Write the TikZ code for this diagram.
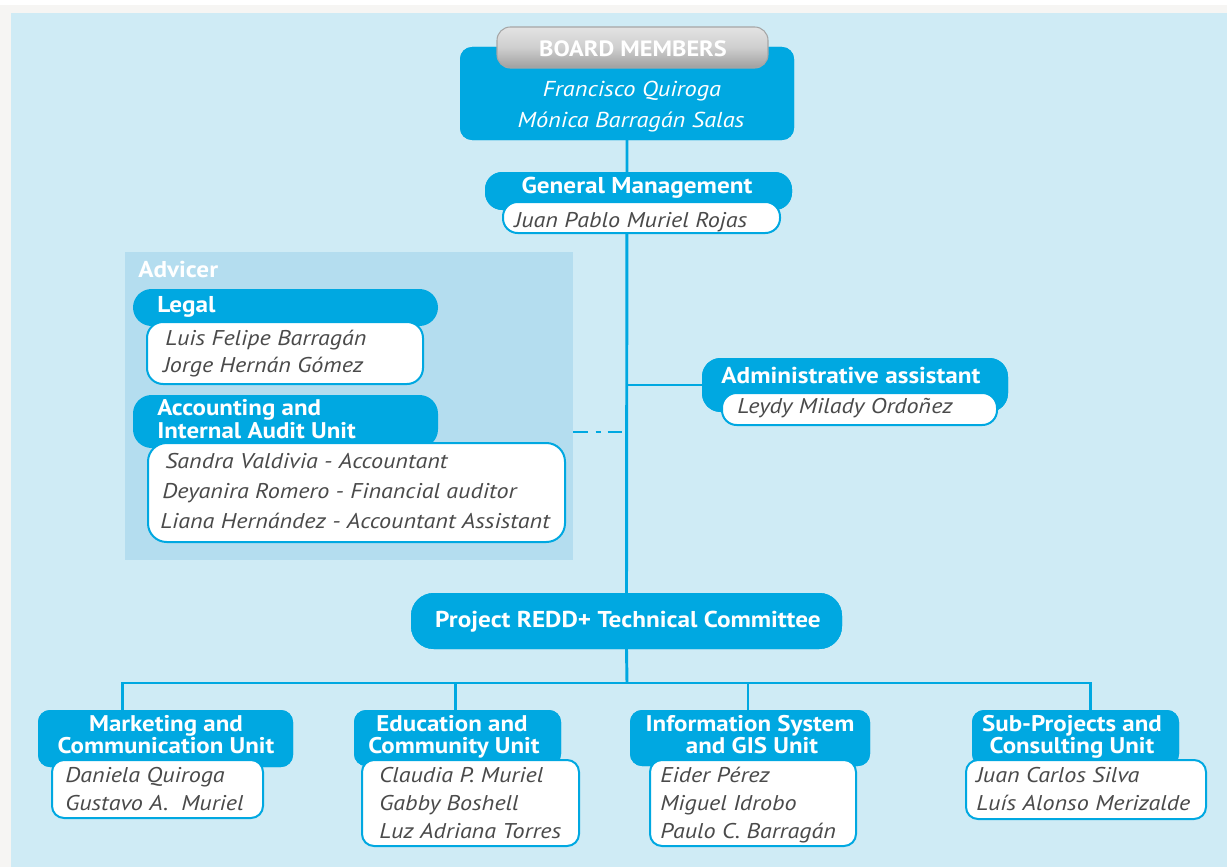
\documentclass[tikz,border=0pt]{standalone}
\usepackage{fontspec}
\setmainfont{PT Sans}
\newfontfamily\tfam[FakeStretch=1.1]{PT Sans}
\newfontfamily\nfam[FakeStretch=1.13]{PT Sans}
\definecolor{bg}{RGB}{207,235,245}
\definecolor{advc}{RGB}{180,221,239}
\definecolor{cy}{RGB}{0,168,225}
\definecolor{nm}{RGB}{74,74,74}
\definecolor{marg}{RGB}{246,245,243}
\newcommand\rrect[6]{\node[#6, minimum width={(#4-#2)*0.75pt}, minimum height={(#5-#3)*0.75pt}] (#1) at ({(#2+#4)/2},{(#3+#5)/2}) {};}
\begin{document}
\begin{tikzpicture}[x=0.75pt,y=-0.75pt,
  pill/.style={fill=cy, rounded corners=9pt, draw=none, inner sep=0pt, outer sep=0pt},
  wbox/.style={fill=white, draw=cy, line width=1.5pt, rounded corners=9pt, inner sep=0pt, outer sep=0pt},
  graypill/.style={rounded corners=10pt, inner sep=0pt, top color=gray!22, bottom color=gray!75, middle color=gray!38, draw=gray!70, line width=0.8pt},
  conn/.style={draw=cy, line width=2.2pt},
  ttl/.style={text=white, font=\tfam\bfseries\fontsize{17.2}{17.2}\selectfont, inner sep=0pt},
  sttl/.style={text=white, font=\tfam\bfseries\fontsize{17}{17}\selectfont, inner sep=0pt},
  nam/.style={text=nm, font=\nfam\itshape\fontsize{16}{16}\selectfont, inner sep=0pt},
  bnam/.style={text=white, font=\nfam\itshape\fontsize{16.2}{16.2}\selectfont, inner sep=0pt},
]
\useasboundingbox (0,0) rectangle (1227,867);
\fill[marg] (0,0) rectangle (1227,867);
\fill[white] (0,0) rectangle (1227,5);
\fill[bg] (11,13) rectangle (1227,867);
% advicer panel
\rrect{adv}{125}{252}{573}{560}{fill=advc, inner sep=0pt, outer sep=0pt}
\node[ttl, anchor=base west] (advt) at (138,277) {Advicer};

% boxes (geometry)
\rrect{board}{460}{47}{794}{140}{pill, rounded corners=9pt}
\rrect{gm}{485}{172}{792}{210}{pill, rounded corners=13pt}
\rrect{legal}{133}{289}{438}{326}{pill, rounded corners=14pt}
\rrect{acc}{133}{395}{438}{448}{pill, rounded corners=14pt}
\rrect{adm}{702}{358}{1008}{412}{pill, rounded corners=14pt}
\rrect{com}{411}{593}{842}{649}{pill, rounded corners=17pt}
\rrect{mkt}{38}{710}{293}{767}{pill}
\rrect{edu}{354}{710}{561}{766}{pill}
\rrect{inf}{630}{710}{870}{766}{pill}
\rrect{sub}{972}{710}{1179}{766}{pill}

% connectors
\coordinate (dashstart) at (573,432);
\coordinate (bus) at (627,683);
\draw[conn] (board.south) -- (com.north);
\draw[conn] (adm.west) -- (adm.west -| board.south);
\draw[draw=cy, line width=2.2pt, dash pattern=on 11pt off 6pt on 4pt off 5pt] (dashstart) -- (dashstart -| board.south);
\draw[conn] (com.south) -- (bus);
\draw[conn] ([xshift=-32.25pt]mkt.north) |- (bus) -| ([xshift=11pt]sub.north);
\draw[conn] ([xshift=-1.5pt]edu.north) -- ([xshift=-1.5pt]edu.north |- bus);
\draw[conn] ([xshift=-1.5pt]inf.north) -- ([xshift=-1.5pt]inf.north |- bus);

% redraw boxes on top of connectors
\rrect{boardf}{460}{47}{794}{140}{pill, rounded corners=9pt}
\rrect{bm}{497}{27}{768}{68}{graypill}
\rrect{gmf}{485}{172}{792}{210}{pill, rounded corners=13pt}
\rrect{gmw}{503}{202}{780}{233}{wbox, rounded corners=11pt}
\rrect{legalw}{147}{322}{423}{384}{wbox, rounded corners=12pt}
\rrect{accw}{148}{443}{565}{542}{wbox, rounded corners=14pt}
\rrect{admf}{702}{358}{1008}{412}{pill, rounded corners=14pt}
\rrect{admw}{722}{393}{997}{425}{wbox, rounded corners=11pt}
\rrect{comf}{411}{593}{842}{649}{pill, rounded corners=17pt}
\rrect{mktf}{38}{710}{293}{767}{pill}
\rrect{mktw}{52}{760}{263}{818}{wbox}
\rrect{eduf}{354}{710}{561}{766}{pill}
\rrect{eduw}{362}{760}{579}{846}{wbox}
\rrect{inff}{630}{710}{870}{766}{pill}
\rrect{infw}{650}{760}{856}{846}{wbox}
\rrect{subf}{972}{710}{1179}{766}{pill}
\rrect{subw}{966}{760}{1206}{819}{wbox}

% texts
\node[ttl, anchor=base, font=\tfam\bfseries\fontsize{16.6}{16.6}\selectfont] (bmt) at (633,56) {BOARD MEMBERS};
\node[bnam, anchor=base] (b1) at (632,97) {Francisco Quiroga};
\node[bnam, anchor=base] (b2) at (631,127) {Mónica Barragán Salas};
\node[ttl, anchor=base] (gmt) at (637,193) {General Management};
\node[nam, anchor=base] (gmn) at (631,227) {Juan Pablo Muriel Rojas};

\node[ttl, anchor=base west] (legt) at (157,312) {Legal};
\node[nam, anchor=base west] (l1) at (165,345) {Luis Felipe Barragán};
\node[nam, anchor=base west] (l2) at (163,372) {Jorge Hernán Gómez};

\node[sttl, anchor=base west] (acct1) at (157,415) {Accounting and};
\node[sttl, anchor=base west] (acct2) at (157,438) {Internal Audit Unit};
\node[nam, anchor=base west] (a1) at (165,468) {Sandra Valdivia - Accountant};
\node[nam, anchor=base west] (a2) at (162,498) {Deyanira Romero - Financial auditor};
\node[nam, anchor=base west] (a3) at (160,528) {Liana Hernández - Accountant Assistant};

\node[ttl, anchor=base] (admt) at (851,383) {Administrative assistant};
\node[nam, anchor=base west] (adn) at (737,413) {Leydy Milady Ordoñez};

\node[ttl, anchor=base] (comt) at (628,627) {Project REDD+ Technical Committee};

\node[sttl, anchor=base] (mk1) at (166,731) {Marketing and};
\node[sttl, anchor=base] (mk2) at (166,753) {Communication Unit};
\node[nam, anchor=base west] (mkn1) at (65,782) {Daniela Quiroga};
\node[nam, anchor=base west] (mkn2) at (65,810) {Gustavo A.\ \ Muriel};

\node[sttl, anchor=base] (ed1) at (452,731) {Education and};
\node[sttl, anchor=base] (ed2) at (454,753) {Community Unit};
\node[nam, anchor=base west] (edn1) at (379,782) {Claudia P. Muriel};
\node[nam, anchor=base west] (edn2) at (379,810) {Gabby Boshell};
\node[nam, anchor=base west] (edn3) at (379,838) {Luz Adriana Torres};

\node[sttl, anchor=base] (if1) at (750,731) {Information System};
\node[sttl, anchor=base] (if2) at (752,753) {and GIS Unit};
\node[nam, anchor=base west] (ifn1) at (660,782) {Eider Pérez};
\node[nam, anchor=base west] (ifn2) at (660,810) {Miguel Idrobo};
\node[nam, anchor=base west] (ifn3) at (660,838) {Paulo C. Barragán};

\node[sttl, anchor=base] (sb1) at (1072,731) {Sub-Projects and};
\node[sttl, anchor=base] (sb2) at (1072,753) {Consulting Unit};
\node[nam, anchor=base west] (sbn1) at (976,782) {Juan Carlos Silva};
\node[nam, anchor=base west] (sbn2) at (976,810) {Luís Alonso Merizalde};
\end{tikzpicture}
\end{document}
